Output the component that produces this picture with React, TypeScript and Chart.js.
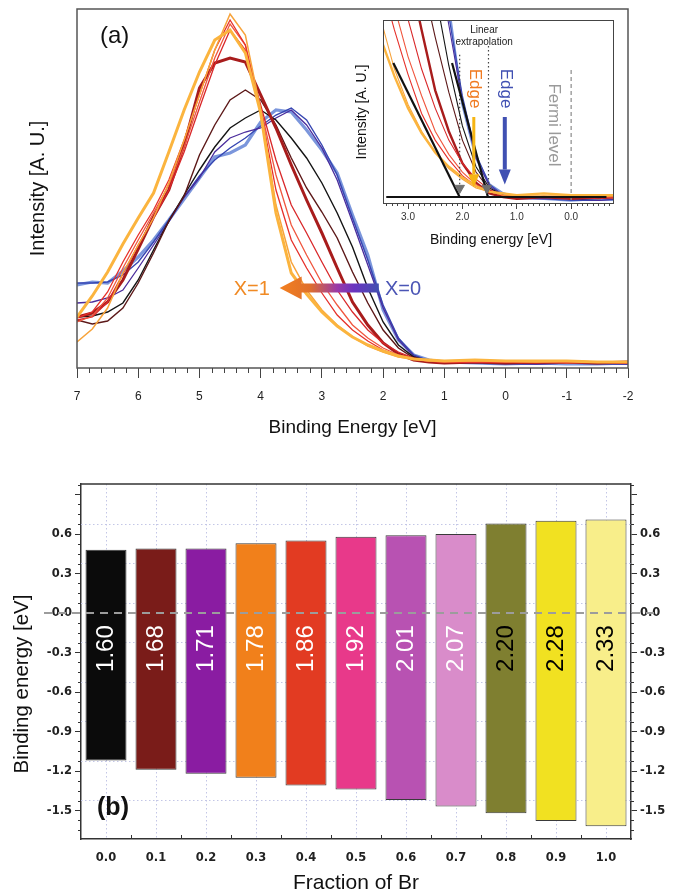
import React, { useEffect, useRef } from 'react';
import { Chart, registerables } from 'chart.js';
Chart.register(...registerables);

const FONT = "'Liberation Sans', Arial, Helvetica, sans-serif";
const FONT_B = "'DejaVu Sans', Verdana, sans-serif";
Chart.defaults.font.family = FONT;
Chart.defaults.color = '#222';

// ---------------- Panel (a) data: intensity [a.u.] vs binding energy [eV] ----------------
const energyGrid = [7, 6.75, 6.5, 6.25, 6, 5.75, 5.5, 5.25, 5, 4.75, 4.5, 4.25, 4, 3.75, 3.5, 3.25, 3, 2.75, 2.5, 2.25, 2, 1.75, 1.5, 1.25, 1, 0.5, 0, -0.5, -1, -1.5, -2];

const specLightBlue = [8.3, 8.6, 8.5, 9.7, 11.1, 12.8, 14.8, 16.9, 19.0, 21.1, 21.5, 22.3, 24.6, 25.8, 25.6, 23.8, 21.8, 19.5, 15.3, 11.3, 5.8, 2.8, 1.3, 0.8, 0.6, 0.5, 0.4, 0.5, 0.4, 0.4, 0.5];
const specDarkBlue = [8.5, 8.5, 8.6, 9.3, 10.6, 12.6, 14.8, 17.1, 19.2, 20.8, 22.0, 23.0, 24.2, 25.3, 26.0, 24.8, 22.3, 19.3, 15.0, 10.8, 6.3, 3.0, 1.3, 0.7, 0.5, 0.5, 0.4, 0.4, 0.5, 0.4, 0.4];
const specPurple = [6.5, 6.6, 7.0, 7.8, 10.0, 12.3, 14.6, 17.1, 19.0, 21.6, 23.0, 23.6, 24.0, 25.0, 25.8, 24.3, 22.0, 18.8, 14.6, 10.3, 6.0, 2.8, 1.2, 0.7, 0.5, 0.5, 0.5, 0.4, 0.5, 0.5, 0.4];
const specBlack = [5.1, 5.2, 5.6, 6.5, 8.8, 11.8, 14.7, 17.3, 19.8, 22.1, 24.0, 25.0, 25.8, 24.8, 23.0, 21.0, 18.5, 15.5, 12.1, 8.0, 4.6, 2.3, 1.1, 0.7, 0.5, 0.6, 0.5, 0.5, 0.6, 0.5, 0.5];
const specBrown = [4.8, 4.4, 4.7, 6.0, 8.5, 11.5, 14.7, 17.2, 21.3, 24.3, 26.8, 27.8, 26.8, 24.3, 21.0, 18.0, 15.6, 13.0, 9.6, 6.5, 3.8, 2.0, 1.0, 0.6, 0.5, 0.6, 0.5, 0.6, 0.5, 0.5, 0.6];
const specDarkRed = [5.1, 5.5, 6.6, 8.8, 11.9, 15.1, 17.8, 22.3, 28.0, 30.5, 31.0, 30.6, 27.3, 24.0, 20.3, 16.8, 13.5, 10.0, 6.6, 4.3, 2.5, 1.4, 0.8, 0.6, 0.5, 0.6, 0.5, 0.6, 0.6, 0.5, 0.6];
const specRed3 = [4.8, 5.1, 6.6, 9.4, 12.3, 15.0, 17.8, 21.6, 26.0, 30.3, 33.8, 31.8, 26.3, 20.8, 16.3, 13.5, 10.6, 7.8, 5.6, 3.8, 2.5, 1.6, 1.0, 0.7, 0.6, 0.6, 0.6, 0.5, 0.6, 0.6, 0.5];
const specRed2 = [4.6, 5.2, 7.0, 10.0, 12.8, 15.5, 18.3, 22.1, 26.6, 31.0, 34.4, 32.3, 26.0, 19.3, 14.3, 11.3, 8.5, 6.3, 4.3, 3.0, 2.0, 1.3, 0.9, 0.7, 0.6, 0.6, 0.6, 0.6, 0.5, 0.6, 0.6];
const specRed1 = [5.0, 5.6, 7.6, 10.6, 13.3, 15.8, 18.8, 22.8, 27.3, 31.8, 34.8, 32.3, 25.8, 17.8, 12.8, 10.0, 7.5, 5.3, 3.8, 2.7, 1.8, 1.2, 0.9, 0.7, 0.6, 0.6, 0.6, 0.6, 0.6, 0.6, 0.5];
const specOrange = [2.6, 3.9, 6.0, 9.5, 12.3, 15.0, 18.5, 22.8, 27.3, 31.8, 35.4, 33.3, 25.8, 16.3, 10.6, 7.8, 5.8, 4.3, 3.1, 2.2, 1.6, 1.1, 0.9, 0.7, 0.7, 0.7, 0.7, 0.6, 0.7, 0.6, 0.6];
const specYellow = [5.1, 7.2, 9.6, 12.4, 15.0, 17.5, 21.6, 25.8, 29.6, 32.8, 33.8, 31.5, 25.5, 15.5, 9.5, 7.4, 5.6, 4.2, 3.1, 2.3, 1.7, 1.2, 0.9, 0.8, 0.7, 0.8, 0.7, 0.7, 0.7, 0.6, 0.6];

// drawn bottom -> top
const spectraStyles = [
  { values: specLightBlue, color: '#7b96dc', width: 3.2 },
  { values: specDarkBlue, color: '#3646b2', width: 1.4 },
  { values: specPurple, color: '#4a2c9c', width: 1.3 },
  { values: specBlack, color: '#141414', width: 1.4 },
  { values: specBrown, color: '#5c1818', width: 1.4 },
  { values: specDarkRed, color: '#a81c1c', width: 3.0 },
  { values: specRed3, color: '#d9282a', width: 1.3 },
  { values: specRed2, color: '#f0563e', width: 1.3 },
  { values: specRed1, color: '#e6302a', width: 1.3 },
  { values: specOrange, color: '#f7a33a', width: 1.5 },
  { values: specYellow, color: '#fbb43e', width: 3.0 },
];

// annotation levels (panel a)
const arrowTipE = 3.69;
const arrowTailE = 2.07;
const arrowLevel = 8.0;
const labelX1E = 3.85;
const labelX0E = 1.97;

// inset helpers
const insetBaseline = [[3.4, 0.6], [-0.65, 0.6]];
const extrapLineX1 = [[3.27, 8.14], [2.05, 0.6]];
const extrapLineX0 = [[2.19, 8.14], [1.53, 0.6]];
const dottedLineX1 = [[2.05, 8.6], [2.05, 0.9]];
const dottedLineX0 = [[1.52, 9.1], [1.52, 0.9]];
const fermiLine = [[0, 7.75], [0, 0.26]];
const edgeMarkers = [[2.05, 1.1], [1.55, 1.1]];
const edgeArrowX1 = [[1.79, 5.1], [1.79, 1.15]];
const edgeArrowX0 = [[1.22, 5.1], [1.22, 1.3]];

// ---------------- Panel (b) data ----------------
const fractionLabels = ['0.0', '0.1', '0.2', '0.3', '0.4', '0.5', '0.6', '0.7', '0.8', '0.9', '1.0'];
const bandTop = [0.48, 0.49, 0.49, 0.53, 0.55, 0.58, 0.59, 0.60, 0.68, 0.70, 0.71];
const bandBottom = [-1.12, -1.19, -1.22, -1.25, -1.31, -1.34, -1.42, -1.47, -1.52, -1.58, -1.62];
const gapLabels = ['1.60', '1.68', '1.71', '1.78', '1.86', '1.92', '2.01', '2.07', '2.20', '2.28', '2.33'];
const gridLevelsB = [0.68, 0.38, 0.08, -0.22, -0.52, -0.82, -1.12, -1.42];

const barColors = ['#0b0b0b', '#7a1c19', '#8a1ca2', '#f1801b', '#e23b22', '#e8398a', '#b852b2', '#d98cca', '#7f7f30', '#f1e121', '#f8ee8a'];
const labelColors = ['#fff', '#fff', '#fff', '#fff', '#fff', '#fff', '#fff', '#fff', '#000', '#000', '#000'];

const pts = (a: number[][]) => a.map(([x, y]) => ({ x, y }));

function drawText(ctx: CanvasRenderingContext2D, s: string, x: number, y: number, font: string, color: string, align: CanvasTextAlign = 'center', rot = 0) {
  ctx.save();
  ctx.translate(x, y);
  ctx.rotate(rot);
  ctx.font = font;
  ctx.fillStyle = color;
  ctx.textAlign = align;
  ctx.textBaseline = 'middle';
  ctx.fillText(s, 0, 0);
  ctx.restore();
}

function seg(ctx: CanvasRenderingContext2D, x1: number, y1: number, x2: number, y2: number) {
  ctx.beginPath();
  ctx.moveTo(x1, y1);
  ctx.lineTo(x2, y2);
  ctx.stroke();
}

// ---------------- Panel (a) plugin ----------------
const panelAPlugin = {
  id: 'panelA',
  afterDraw(chart: any) {
    const { ctx, chartArea: a, scales } = chart;
    const xs = scales.x, ys = scales.y;
    ctx.save();
    ctx.strokeStyle = '#555';
    ctx.lineWidth = 1.5;
    ctx.strokeRect(a.left, a.top, a.right - a.left, a.bottom - a.top);
    ctx.lineWidth = 1;
    ctx.strokeStyle = '#444';
    for (let k = -10; k <= 35; k++) {
      const e = k * 0.2;
      if (Math.abs(e - Math.round(e)) < 1e-6) continue;
      const px = Math.round(xs.getPixelForValue(e)) + 0.5;
      seg(ctx, px, a.bottom, px, a.bottom + 5);
    }
    // composition arrow
    const tip = xs.getPixelForValue(arrowTipE);
    const tail = xs.getPixelForValue(arrowTailE);
    const ay = ys.getPixelForValue(arrowLevel);
    const g = ctx.createLinearGradient(tip, 0, tail, 0);
    g.addColorStop(0, '#f38020');
    g.addColorStop(0.3, '#e0702a');
    g.addColorStop(0.58, '#9a3aa8');
    g.addColorStop(0.75, '#6a34c0');
    g.addColorStop(1, '#4250b0');
    ctx.fillStyle = g;
    ctx.beginPath();
    ctx.moveTo(tip, ay);
    ctx.lineTo(tip + 22, ay - 11.5);
    ctx.lineTo(tip + 22, ay - 4.5);
    ctx.lineTo(tail, ay - 4.5);
    ctx.lineTo(tail, ay + 4.5);
    ctx.lineTo(tip + 22, ay + 4.5);
    ctx.lineTo(tip + 22, ay + 11.5);
    ctx.closePath();
    ctx.fill();
    drawText(ctx, 'X=1', xs.getPixelForValue(labelX1E), ay + 1, `20px ${FONT}`, '#f08a24', 'right');
    drawText(ctx, 'X=0', xs.getPixelForValue(labelX0E), ay + 1, `20px ${FONT}`, '#4b55b5', 'left');
    drawText(ctx, '(a)', a.left + 23, a.top + 27, `24px ${FONT}`, '#111', 'left');
    drawText(ctx, 'Binding Energy [eV]', (a.left + a.right) / 2, 428, `19px ${FONT}`, '#111');
    drawText(ctx, 'Intensity [A. U.]', 38, (a.top + a.bottom) / 2, `20px ${FONT}`, '#111', 'center', -Math.PI / 2);
    ctx.restore();
  },
};

// ---------------- Inset plugin ----------------
function vArrow(ctx: CanvasRenderingContext2D, x: number, y1: number, y2: number, color: string, shaft: number, headW: number, headL: number) {
  ctx.save();
  ctx.fillStyle = color;
  ctx.fillRect(x - shaft / 2, y1, shaft, y2 - y1 - headL);
  ctx.beginPath();
  ctx.moveTo(x - headW / 2, y2 - headL);
  ctx.lineTo(x + headW / 2, y2 - headL);
  ctx.lineTo(x, y2);
  ctx.closePath();
  ctx.fill();
  ctx.restore();
}

const insetPlugin = {
  id: 'inset',
  afterDraw(chart: any) {
    const { ctx, chartArea: a, scales } = chart;
    const xs = scales.x, ys = scales.y;
    ctx.save();
    ctx.strokeStyle = '#444';
    ctx.lineWidth = 1;
    ctx.strokeRect(a.left + 0.5, a.top + 0.5, a.right - a.left, a.bottom - a.top);
    for (let k = -7; k <= 34; k++) {
      const e = k * 0.1;
      if (Math.abs(e - Math.round(e)) < 1e-6) continue;
      const px = Math.round(xs.getPixelForValue(e)) + 0.5;
      seg(ctx, px, a.bottom, px, a.bottom + 3);
    }
    const [a1, a2] = edgeArrowX1;
    vArrow(ctx, xs.getPixelForValue(a1[0]), ys.getPixelForValue(a1[1]), ys.getPixelForValue(a2[1]), '#f6b513', 3, 11, 13);
    const [b1, b2] = edgeArrowX0;
    vArrow(ctx, xs.getPixelForValue(b1[0]), ys.getPixelForValue(b1[1]), ys.getPixelForValue(b2[1]), '#4050b2', 4, 12, 15);
    drawText(ctx, 'Edge', xs.getPixelForValue(1.77), ys.getPixelForValue(6.7), `17px ${FONT}`, '#f07a20', 'center', Math.PI / 2);
    drawText(ctx, 'Edge', xs.getPixelForValue(1.21), ys.getPixelForValue(6.7), `17px ${FONT}`, '#4050b2', 'center', Math.PI / 2);
    drawText(ctx, 'Fermi level', xs.getPixelForValue(0.33), ys.getPixelForValue(4.65), `17px ${FONT}`, '#9a9a9a', 'center', Math.PI / 2);
    drawText(ctx, 'Linear', xs.getPixelForValue(1.6), a.top + 10, `10px ${FONT}`, '#222');
    drawText(ctx, 'extrapolation', xs.getPixelForValue(1.6), a.top + 22, `10px ${FONT}`, '#222');
    drawText(ctx, 'Binding energy [eV]', 151, 230, `14px ${FONT}`, '#111');
    drawText(ctx, 'Intensity [A. U.]', 22, 102, `14px ${FONT}`, '#111', 'center', -Math.PI / 2);
    ctx.restore();
  },
};

// ---------------- Panel (b) plugin ----------------
const labelLevel = -0.27;
const panelBPlugin = {
  id: 'panelB',
  beforeDatasetsDraw(chart: any) {
    const { ctx, chartArea: a, scales } = chart;
    const xs = scales.x, ys = scales.y;
    ctx.save();
    ctx.strokeStyle = '#c3c6e6';
    ctx.lineWidth = 1;
    ctx.setLineDash([1.5, 2.5]);
    fractionLabels.forEach((_, i) => {
      const px = Math.round(xs.getPixelForValue(i)) + 0.5;
      seg(ctx, px, a.top, px, a.bottom);
    });
    gridLevelsB.forEach((v) => {
      const py = Math.round(ys.getPixelForValue(v)) + 0.5;
      seg(ctx, a.left, py, a.right, py);
    });
    ctx.restore();
  },
  afterDatasetsDraw(chart: any) {
    const { ctx, scales } = chart;
    const ys = scales.y;
    ctx.save();
    ctx.strokeStyle = '#9c9c9c';
    ctx.lineWidth = 2;
    ctx.setLineDash([8, 6]);
    const y0 = ys.getPixelForValue(0);
    seg(ctx, 44, y0, 660, y0);
    ctx.setLineDash([]);
    const meta = chart.getDatasetMeta(0);
    meta.data.forEach((bar: any, i: number) => {
      drawText(ctx, gapLabels[i], bar.x, ys.getPixelForValue(labelLevel), `24px ${FONT}`, labelColors[i], 'center', -Math.PI / 2);
    });
    ctx.restore();
  },
  afterDraw(chart: any) {
    const { ctx, chartArea: a, scales } = chart;
    const xs = scales.x, ys = scales.y;
    ctx.save();
    ctx.strokeStyle = '#333';
    ctx.lineWidth = 1.5;
    seg(ctx, a.left, a.top, a.right, a.top);
    ctx.lineWidth = 1;
    // minor ticks on both vertical axes
    for (let k = -22; k <= 13; k++) {
      const v = k * 0.075;
      if (Math.abs(v / 0.3 - Math.round(v / 0.3)) < 1e-6) continue;
      if (v < ys.min || v > ys.max) continue;
      const py = Math.round(ys.getPixelForValue(v)) + 0.5;
      seg(ctx, a.left - 3, py, a.left, py);
      seg(ctx, a.right, py, a.right + 3, py);
    }
    // category boundary ticks
    for (let i = 0; i < fractionLabels.length - 1; i++) {
      const px = Math.round((xs.getPixelForValue(i) + xs.getPixelForValue(i + 1)) / 2) + 0.5;
      seg(ctx, px, a.bottom, px, a.bottom - 4);
    }
    drawText(ctx, '(b)', a.left + 32, ys.getPixelForValue(-1.485), `bold 25px ${FONT}`, '#111');
    drawText(ctx, 'Fraction of Br', (a.left + a.right) / 2, 433, `21px ${FONT}`, '#111');
    drawText(ctx, 'Binding energy [eV]', 22, 234, `20.5px ${FONT}`, '#111', 'center', -Math.PI / 2);
    ctx.restore();
  },
};

const yTickFmt = (v: any) => {
  const n = Number(v);
  if (Math.abs(n - 0.9) < 1e-6) return '';
  return (Math.abs(n) < 1e-9 ? 0 : n).toFixed(1);
};

export default function App() {
  const refA = useRef<HTMLCanvasElement>(null);
  const refI = useRef<HTMLCanvasElement>(null);
  const refB = useRef<HTMLCanvasElement>(null);

  useEffect(() => {
    const mainSets = spectraStyles.map((s, i) => ({
      data: energyGrid.map((e, k) => ({ x: e, y: s.values[k] })),
      borderColor: s.color,
      borderWidth: s.width,
      pointRadius: 0,
      tension: 0,
      fill: false,
      order: spectraStyles.length - i + 10,
    }));

    const chartA = new Chart(refA.current as HTMLCanvasElement, {
      type: 'line',
      data: { datasets: mainSets as any },
      options: {
        animation: false,
        responsive: false,
        layout: { padding: { left: 0, right: 45, top: 9, bottom: 0 } },
        plugins: { legend: { display: false }, tooltip: { enabled: false } },
        scales: {
          x: {
            type: 'linear', min: -2, max: 7, reverse: true,
            ticks: { stepSize: 1, color: '#222', font: { size: 12 }, padding: 11, maxRotation: 0, callback: (v: any) => String(v) },
            grid: { drawOnChartArea: false, drawTicks: true, tickLength: 10, color: '#444', lineWidth: 1 },
            border: { display: false },
            afterFit: (s: any) => { s.height = 82; },
          },
          y: {
            type: 'linear', min: 0, max: 35.9,
            ticks: { display: false },
            grid: { display: false },
            border: { display: false },
            afterFit: (s: any) => { s.width = 77; },
          },
        },
      } as any,
      plugins: [panelAPlugin],
    });

    const insetSets: any[] = spectraStyles.map((s, i) => ({
      data: energyGrid.map((e, k) => ({ x: e, y: s.values[k] })),
      borderColor: s.color,
      borderWidth: s.width > 2 ? 2.4 : 1.1,
      pointRadius: 0,
      tension: 0,
      order: spectraStyles.length - i + 10,
    }));
    const helper = (d: number[][], color: string, width: number, dash: number[] = []) => ({
      data: pts(d), borderColor: color, borderWidth: width, borderDash: dash, pointRadius: 0, tension: 0, order: 1,
    });
    insetSets.push(helper(insetBaseline, '#111', 2));
    insetSets.push(helper(extrapLineX1, '#111', 2.2));
    insetSets.push(helper(extrapLineX0, '#111', 2.2));
    insetSets.push(helper(dottedLineX1, '#444', 1.2, [1.5, 2.5]));
    insetSets.push(helper(dottedLineX0, '#444', 1.2, [1.5, 2.5]));
    insetSets.push(helper(fermiLine, '#8a8a8a', 1.2, [4, 3]));
    insetSets.push({
      data: pts(edgeMarkers), showLine: false, pointStyle: 'triangle', pointRadius: 5.5, pointRotation: 180,
      pointBackgroundColor: '#707070', pointBorderColor: '#707070', order: 0,
    });

    const chartI = new Chart(refI.current as HTMLCanvasElement, {
      type: 'line',
      data: { datasets: insetSets },
      options: {
        animation: false,
        responsive: false,
        layout: { padding: { left: 0, right: 12, top: 10, bottom: 0 } },
        plugins: { legend: { display: false }, tooltip: { enabled: false } },
        scales: {
          x: {
            type: 'linear', min: -0.77, max: 3.46, reverse: true,
            ticks: { stepSize: 1, includeBounds: false, color: '#333', font: { size: 10 }, padding: 2, maxRotation: 0, callback: (v: any) => Number(v).toFixed(1) },
            grid: { drawOnChartArea: false, tickLength: 6, color: '#444' },
            border: { display: false },
            afterFit: (s: any) => { s.height = 57; },
          },
          y: {
            type: 'linear', min: 0.26, max: 10.56,
            ticks: { display: false },
            grid: { display: false },
            border: { display: false },
            afterFit: (s: any) => { s.width = 43; },
          },
        },
      } as any,
      plugins: [insetPlugin],
    });

    const yCommon = {
      type: 'linear', min: -1.716, max: 0.98,
      ticks: { stepSize: 0.3, includeBounds: false, callback: yTickFmt, color: '#222', font: { family: FONT_B, weight: 'bold', size: 11.5 }, padding: 3 },
      grid: { drawOnChartArea: false, tickLength: 6, color: '#333' },
      border: { display: true, color: '#333', width: 1.5 },
    };

    const chartB = new Chart(refB.current as HTMLCanvasElement, {
      type: 'bar',
      data: {
        labels: fractionLabels,
        datasets: [{
          data: bandBottom.map((b, i) => [b, bandTop[i]]),
          backgroundColor: barColors,
          borderColor: '#3a3a3a',
          borderWidth: 1,
          borderSkipped: false,
          barPercentage: 0.82,
          categoryPercentage: 1,
          yAxisID: 'y',
        }] as any,
      },
      options: {
        animation: false,
        responsive: false,
        layout: { padding: { left: 0, right: 0, top: 34, bottom: 0 } },
        plugins: { legend: { display: false }, tooltip: { enabled: false } },
        scales: {
          x: {
            type: 'category',
            ticks: { color: '#222', font: { family: FONT_B, weight: 'bold', size: 11.5 }, padding: 12, maxRotation: 0 },
            grid: { display: false, drawTicks: false },
            border: { display: true, color: '#333', width: 1.5 },
            afterFit: (s: any) => { s.height = 56; },
          },
          y: { ...yCommon, position: 'left', afterFit: (s: any) => { s.width = 81; } },
          y2: { ...yCommon, position: 'right', afterFit: (s: any) => { s.width = 42; } },
        },
      } as any,
      plugins: [panelBPlugin],
    });

    return () => {
      chartA.destroy();
      chartI.destroy();
      chartB.destroy();
    };
  }, []);

  return (
    <div style={{ position: 'absolute', left: 0, top: 0, width: 673, height: 895, background: '#fff' }}>
      <canvas ref={refA} width={673} height={450} style={{ position: 'absolute', left: 0, top: 0 }} />
      <canvas ref={refI} width={285} height={250} style={{ position: 'absolute', left: 340, top: 10 }} />
      <canvas ref={refB} width={673} height={445} style={{ position: 'absolute', left: 0, top: 450 }} />
    </div>
  );
}
